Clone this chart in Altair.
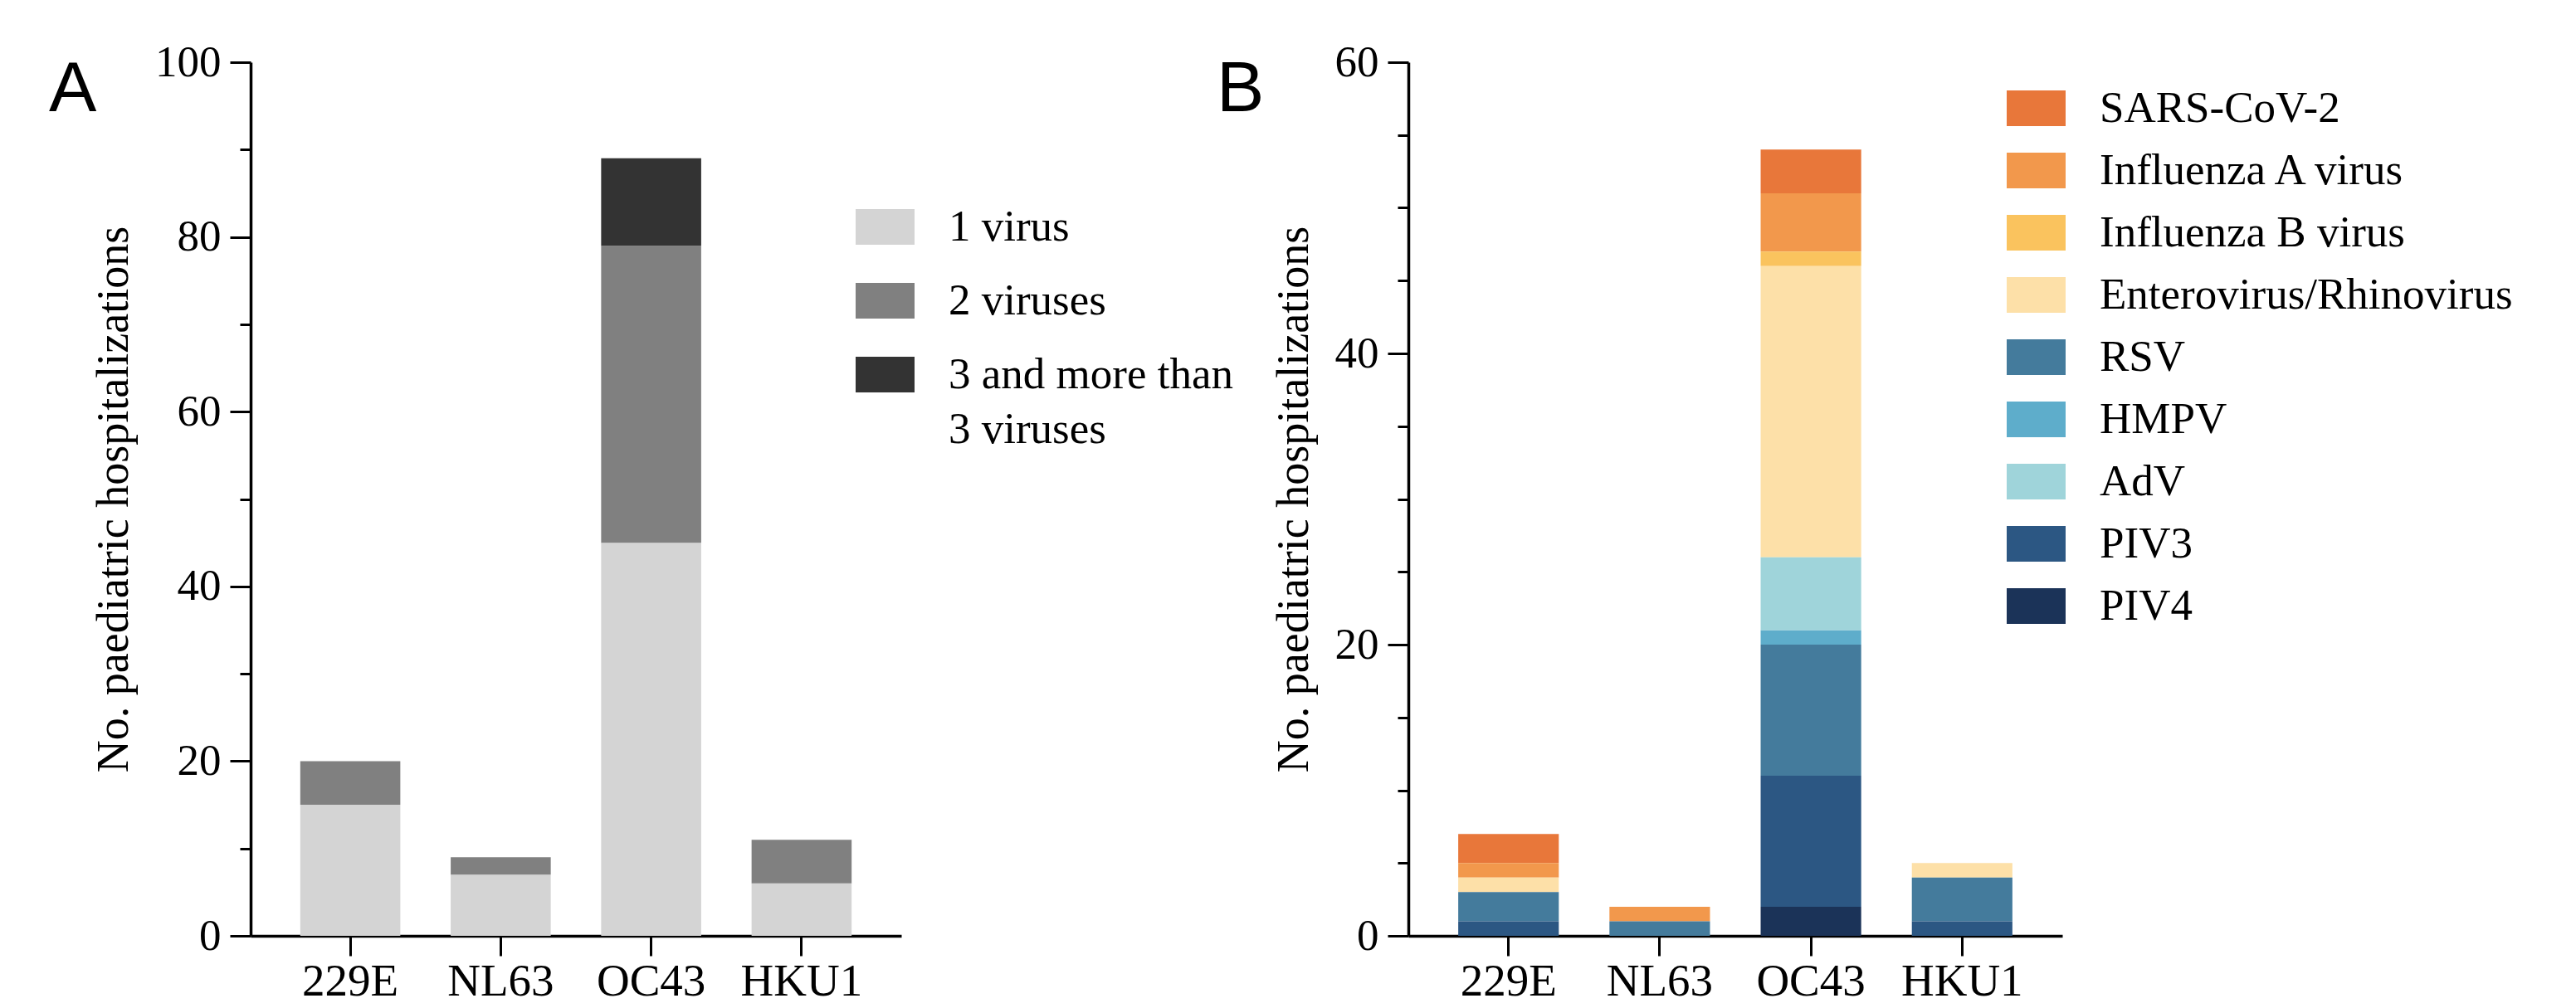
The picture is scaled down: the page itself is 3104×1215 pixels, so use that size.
import altair as alt
import pandas as pd

# ---------------- data ----------------
categories = ["229E", "NL63", "OC43", "HKU1"]
panel_labels = ["A", "B"]
y_title = "No. paediatric hospitalizations"

# Panel A: number of co-detected viruses
groups_a = ["1 virus", "2 viruses", "3 and more than 3 viruses"]
one_virus = [15, 7, 45, 6]
two_viruses = [5, 2, 34, 5]
three_plus = [0, 0, 10, 0]
colors_a = ["#d4d4d4", "#808080", "#333333"]

# Panel B: co-detected virus species
viruses_b = ["SARS-CoV-2", "Influenza A virus", "Influenza B virus",
             "Enterovirus/Rhinovirus", "RSV", "HMPV", "AdV", "PIV3", "PIV4"]
sars = [2, 0, 3, 0]
flu_a = [1, 1, 4, 0]
flu_b = [0, 0, 1, 0]
entero = [1, 0, 20, 1]
rsv = [2, 1, 9, 3]
hmpv = [0, 0, 1, 0]
adv = [0, 0, 5, 0]
piv3 = [1, 0, 9, 1]
piv4 = [0, 0, 2, 0]
stack_order_b = ["PIV4", "PIV3", "RSV", "HMPV", "AdV", "Enterovirus/Rhinovirus",
                 "Influenza B virus", "Influenza A virus", "SARS-CoV-2"]
colors_b = ["#e8773a", "#f2984c", "#fac35e", "#fde0a8", "#447b9c",
            "#5eadcb", "#9fd4da", "#2c5783", "#1b3358"]

# ---------------- tables ----------------
rows_a = []
for g, vals in zip(groups_a, [one_virus, two_viruses, three_plus]):
    for c, v in zip(categories, vals):
        if v > 0:
            rows_a.append({"cat": c, "group": g, "n": v, "rank": groups_a.index(g)})
df_a = pd.DataFrame(rows_a)

series_b = dict(zip(viruses_b, [sars, flu_a, flu_b, entero, rsv, hmpv, adv, piv3, piv4]))
rows_b = []
for g in viruses_b:
    for c, v in zip(categories, series_b[g]):
        if v > 0:
            rows_b.append({"cat": c, "virus": g, "n": v, "rank": stack_order_b.index(g)})
df_b = pd.DataFrame(rows_b)

# ---------------- styling ----------------
SERIF = "Liberation Serif"
SANS = "Liberation Sans"
PLOT_H = 1053
SWATCH = "M-1,-0.606H1V0.606H-1Z"


def x_enc(pad_outer):
    return alt.X(
        "cat:N", sort=categories, title=None,
        scale=alt.Scale(paddingInner=0.335, paddingOuter=pad_outer),
        axis=alt.Axis(labelAngle=0, labelFont=SERIF, labelFontSize=55, labelColor="black",
                      labelPadding=4, tickSize=24, tickWidth=3, tickColor="black",
                      domainWidth=3.5, domainColor="black", grid=False),
    )


def y_enc(top, step):
    return alt.Y(
        "n:Q", stack="zero", title=y_title,
        scale=alt.Scale(domain=[0, top], nice=False),
        axis=alt.Axis(values=list(range(0, top + 1, step)),
                      labelExpr="datum.value % 20 === 0 ? datum.label : ''",
                      tickSize={"condition": {"test": "datum.value % 20 === 0", "value": 25}, "value": 13},
                      tickWidth=3, tickColor="black", domainWidth=3.5, domainColor="black",
                      labelFont=SERIF, labelFontSize=53, labelColor="black", labelPadding=11,
                      titleFont=SERIF, titleFontSize=54, titleFontWeight="normal",
                      titleColor="black", titlePadding=22, grid=False),
    )


def legend(x, y, row_pad, label_expr=None):
    kw = dict(orient="none", legendX=x, legendY=y, title=None, padding=0,
              labelFont=SERIF, labelFontSize=53, labelColor="black", labelLimit=1000,
              labelBaseline="middle", labelOffset=41, rowPadding=row_pad,
              symbolType=SWATCH, symbolSize=5041, symbolStrokeWidth=0, symbolOpacity=1)
    if label_expr:
        kw["labelExpr"] = label_expr
    return alt.Legend(**kw)


def letter(idx, dx):
    return alt.Chart(pd.DataFrame({"t": [panel_labels[idx]]})).mark_text(
        font=SANS, fontSize=86, align="left", baseline="alphabetic", color="black"
    ).encode(x=alt.value(dx), y=alt.value(59), text="t:N")


bars_a = alt.Chart(df_a).mark_bar().encode(
    x=x_enc(0.33),
    y=y_enc(100, 10),
    color=alt.Color("group:N", scale=alt.Scale(domain=groups_a, range=colors_a),
                    legend=legend(729, 163, 26,
                                  "datum.label == '3 and more than 3 viruses' ? ['3 and more than', '3 viruses'] : datum.label")),
    order=alt.Order("rank:Q", sort="ascending"),
)
panel_a = alt.layer(bars_a, letter(0, -243)).properties(width=784, height=PLOT_H)

bars_b = alt.Chart(df_b).mark_bar().encode(
    x=x_enc(0.33),
    y=y_enc(60, 5),
    color=alt.Color("virus:N", scale=alt.Scale(domain=viruses_b, range=colors_b),
                    legend=legend(721, 20, 12)),
    order=alt.Order("rank:Q", sort="ascending"),
)
panel_b = alt.layer(bars_b, letter(1, -231)).properties(width=788, height=PLOT_H)

chart = alt.hconcat(panel_a, panel_b, spacing=611, bounds="flush").resolve_scale(
    x="independent", y="independent", color="independent"
).properties(
    padding={"left": 51, "top": 41, "right": 5, "bottom": 0},
    background="white",
).configure(
    style={"guide-label": {"lineHeight": 66}}
).configure_view(strokeWidth=0, stroke="transparent")

chart.save("out.html", embed_options={"renderer": "svg", "actions": False})
